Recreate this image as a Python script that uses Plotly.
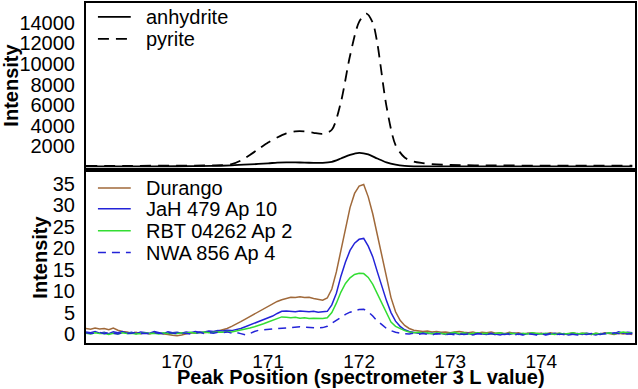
import plotly.graph_objects as go
from plotly.subplots import make_subplots

# ---------------- data ----------------
anh_x = [169.0, 169.5, 170.0, 170.4, 170.6, 170.8, 171.0, 171.1, 171.2, 171.3, 171.4, 171.5, 171.6,
         171.7, 171.8, 171.9, 172.0, 172.1, 172.2, 172.3, 172.4, 172.5, 172.6, 173.0, 174.0, 175.0]
anh_y = [40, 40, 45, 80, 130, 220, 330, 400, 430, 420, 400, 380, 380,
         480, 800, 1150, 1350, 1200, 800, 430, 200, 80, 40, 30, 30, 30]

pyr_x = [169.0, 169.5, 170.0, 170.2, 170.4, 170.5, 170.6, 170.7, 170.8, 170.9, 171.0, 171.1, 171.2,
         171.3, 171.4, 171.5, 171.6, 171.7, 171.8, 171.9, 172.0, 172.08, 172.15, 172.2, 172.3, 172.4,
         172.5, 172.6, 172.7, 172.8, 173.0, 173.5, 174.0, 175.0]
pyr_y = [80, 90, 100, 110, 130, 150, 250, 600, 1150, 1750, 2350, 2850, 3250,
         3450, 3450, 3300, 3200, 3600, 6300, 10800, 14100, 14900, 14000, 12000, 5900, 2100,
         900, 500, 350, 250, 170, 130, 110, 100]

x_start, x_step, n_pts = 169.0, 0.05, 121
peak_x = [round(x_start + x_step * i, 2) for i in range(n_pts)]

durango = [1.3, 1.1, 1.4, 1.2, 1.3, 1.0, 1.4, 0.9, 0.6, 0.5,
           0.2, 0.4, 0.1, 0.3, 0.0, 0.4, 0.2, 0.1, -0.1, -0.3,
           -0.4, -0.2, 0.1, 0.3, 0.2, 0.4, 0.3, 0.5, 0.4, 0.7,
           0.9, 1.3, 1.8, 2.3, 2.9, 3.5, 4.1, 4.6, 5.1, 5.8,
           6.5, 7.0, 7.6, 8.0, 8.3, 8.6, 8.5, 8.7, 8.5, 8.6,
           8.3, 8.1, 7.9, 8.4, 10.5, 14.5, 19.5, 25.0, 29.5, 32.8,
           34.5, 34.9, 32.0, 28.0, 23.0, 18.5, 13.0, 8.5, 5.2, 3.2,
           2.0, 1.3, 0.9, 0.8, 0.6, 0.7, 0.5, 0.6, 0.4, 0.5,
           0.3, 0.5, 0.6, 0.4, 0.3, 0.5, 0.2, 0.4, 0.3, 0.5,
           0.2, 0.3, 0.1, 0.4, 0.2, 0.3, 0.0, 0.2, 0.3, 0.1,
           0.2, 0.0, 0.3, 0.1, 0.2, -0.1, 0.1, 0.3, 0.0, 0.2,
           0.1, -0.1, 0.2, 0.0, 0.3, 0.1, -0.1, 0.2, 0.0, 0.1,
           -0.1]

jah = [0.5, 0.3, 0.6, 0.2, 0.4, 0.1, 0.5, 0.3, 0.6, 0.2,
       0.4, 0.1, 0.5, 0.3, 0.2, 0.6, 0.4, 0.1, 0.5, 0.3,
       0.4, 0.2, 0.5, 0.3, 0.6, 0.4, 0.5, 0.7, 0.6, 0.8,
       0.7, 0.9, 0.8, 1.0, 1.3, 1.7, 2.1, 2.5, 2.9, 3.3,
       3.7, 4.2, 4.8, 5.3, 5.4, 5.3, 5.2, 5.4, 5.3, 5.2,
       5.3, 5.1, 5.2, 5.3, 6.8, 9.5, 13.5, 16.8, 19.5, 21.2,
       22.1, 22.3, 20.5, 18.0, 14.5, 11.0, 7.8, 5.0, 3.0, 1.8,
       1.0, 0.6, 0.4, 0.2, 0.3, 0.1, 0.2, 0.0, 0.2, -0.1,
       0.1, 0.2, -0.1, 0.0, 0.2, -0.2, 0.1, 0.0, -0.1, 0.2,
       0.0, -0.2, 0.1, -0.1, 0.2, 0.0, -0.2, 0.1, 0.0, -0.1,
       0.1, -0.2, 0.0, 0.2, -0.1, 0.1, -0.2, 0.0, 0.1, -0.1,
       0.2, 0.0, -0.2, 0.1, 0.0, 0.3, 0.1, 0.5, 0.2, 0.4,
       0.3]

rbt = [0.2, 0.0, 0.3, 0.1, 0.2, -0.1, 0.2, 0.0, 0.3, 0.1,
       0.2, 0.0, 0.1, 0.3, 0.1, 0.2, 0.0, 0.3, 0.1, 0.2,
       0.1, 0.3, 0.2, 0.4, 0.2, 0.3, 0.5, 0.3, 0.4, 0.5,
       0.4, 0.6, 0.5, 0.7, 1.0, 1.2, 1.4, 1.7, 2.0, 2.4,
       2.8, 3.2, 3.6, 4.0, 3.9, 3.8, 3.9, 3.7, 3.8, 3.6,
       3.7, 3.6, 3.6, 3.8, 5.0, 7.2, 9.8, 11.8, 13.1, 13.9,
       14.2, 14.1, 13.2, 11.6, 9.4, 7.0, 4.7, 2.8, 1.8, 1.2,
       0.8, 0.5, 0.3, 0.4, 0.2, 0.3, 0.1, 0.3, 0.2, 0.0,
       0.2, 0.4, 0.1, 0.3, 0.0, 0.2, 0.3, 0.1, 0.2, 0.0,
       0.1, 0.3, 0.0, 0.2, 0.1, -0.1, 0.2, 0.0, 0.3, 0.1,
       0.0, 0.2, 0.1, -0.1, 0.2, 0.0, 0.1, 0.3, 0.0, 0.2,
       0.1, -0.1, 0.2, 0.0, 0.1, 0.3, 0.0, 0.2, 0.5, 0.3,
       0.2]

nwa = [0.3, 0.1, 0.2, 0.4, 0.1, 0.3, 0.2, 0.0, 0.3, 0.1,
       0.2, 0.4, 0.1, 0.2, 0.0, 0.3, 0.2, 0.1, 0.3, 0.2,
       0.1, 0.3, 0.2, 0.0, 0.2, 0.4, 0.1, 0.3, 0.2, 0.4,
       0.3, 0.5, 0.2, 0.4, 0.1, -0.2, 0.1, 0.6, 0.9, 1.0,
       1.1, 1.2, 1.2, 1.3, 1.4, 1.5, 1.6, 1.7, 1.6, 1.5,
       1.5, 1.4, 1.5, 1.8, 2.5, 3.2, 4.0, 4.6, 5.1, 5.4,
       5.7, 5.8, 5.2, 4.2, 3.0, 2.2, 1.3, 0.8, 0.4, 0.2,
       0.1, 0.0, 0.2, -0.1, 0.1, 0.0, -0.2, 0.1, 0.0, -0.1,
       0.0, -0.2, 0.1, -0.1, 0.0, -0.2, 0.1, 0.0, -0.1, 0.1,
       -0.2, 0.0, -0.1, 0.1, -0.2, 0.0, -0.1, 0.1, 0.0, -0.2,
       0.0, -0.1, 0.1, -0.2, 0.0, -0.1, 0.1, 0.0, -0.2, 0.0,
       -0.1, 0.1, 0.0, -0.1, 0.2, 0.0, 0.3, 0.1, 0.2, 0.0,
       0.1]

top_names = ["anhydrite", "pyrite"]
bot_names = ["Durango", "JaH 479 Ap 10", "RBT 04262 Ap 2", "NWA 856 Ap 4"]
top_ticks = [2000, 4000, 6000, 8000, 10000, 12000, 14000]
top_ticktext = ["2000", "4000", "6000", "8000", "10000", "12000", "14000"]
bot_ticks = [0, 5, 10, 15, 20, 25, 30, 35]
x_ticks = [170, 171, 172, 173, 174]
x_title = "Peak Position (spectrometer 3 L value)"
y_title = "Intensity"

# ---------------- styles ----------------
W, H = 638, 389
ML, MR, MT, MB = 84, 2, 1, 46
FONT = "Liberation Sans, Arial, Helvetica, sans-serif"
C_DUR, C_JAH, C_RBT = "#A0693A", "#2323D8", "#33DD33"

top_style = [dict(color="black", width=1.8), dict(color="black", width=1.8, dash="11px,7px")]
bot_style = [dict(color=C_DUR, width=1.5), dict(color=C_JAH, width=1.5),
             dict(color=C_RBT, width=1.5), dict(color=C_JAH, width=1.5, dash="8px,6px")]

fig = make_subplots(rows=2, cols=1, shared_xaxes=True, vertical_spacing=0.0)

fig.add_trace(go.Scatter(x=anh_x, y=anh_y, mode="lines", name=top_names[0],
                         line=dict(shape="spline", smoothing=0.8, **top_style[0]), showlegend=False), 1, 1)
fig.add_trace(go.Scatter(x=pyr_x, y=pyr_y, mode="lines", name=top_names[1],
                         line=dict(shape="spline", smoothing=0.8, **top_style[1]), showlegend=False), 1, 1)
for name, ys, st in zip(bot_names, [durango, jah, rbt, nwa], bot_style):
    fig.add_trace(go.Scatter(x=peak_x, y=ys, mode="lines", name=name, line=st, showlegend=False), 2, 1)

plot_h = H - MT - MB
plot_w = W - ML - MR


def py2paper(py):
    return (H - MB - py) / plot_h


def px2paper(px):
    return (px - ML) / plot_w


top_dom = [py2paper(167), 1.0]
bot_dom = [0.0, py2paper(171)]

tfont = dict(family=FONT, size=20, color="black")
xfont = dict(family=FONT, size=19, color="black")
axis_common = dict(showline=True, linecolor="black", linewidth=2, mirror=True,
                   showgrid=False, zeroline=False, ticks="", tickfont=tfont)

fig.update_xaxes(range=[169.0, 175.03], tickvals=x_ticks, **axis_common)
fig.update_xaxes(showticklabels=False, row=1, col=1)
fig.update_xaxes(ticklabelstandoff=0, tickfont=xfont, row=2, col=1)
fig.update_yaxes(range=[-126, 15937], tickvals=top_ticks, ticktext=top_ticktext, domain=top_dom,
                 ticklabelstandoff=5,
                 title=dict(text="<b>%s</b>" % y_title, font=tfont, standoff=4),
                 row=1, col=1, **axis_common)
fig.update_yaxes(range=[-2.09, 37.8], tickvals=bot_ticks, domain=bot_dom,
                 ticklabelstandoff=5,
                 title=dict(text="<b>%s</b>" % y_title, font=tfont, standoff=0),
                 row=2, col=1, **axis_common)

# ---------------- hand-drawn legends and x title ----------------
shapes, annots = [], []
legend_sets = [(top_names, top_style, [15, 37]), (bot_names, bot_style, [187, 208, 230, 252])]
for names, styles, rows in legend_sets:
    for name, st, ry in zip(names, styles, rows):
        shapes.append(dict(type="line", xref="paper", yref="paper",
                           x0=px2paper(96), x1=px2paper(129), y0=py2paper(ry), y1=py2paper(ry),
                           line=st))
        annots.append(dict(text=name, xref="paper", yref="paper", x=px2paper(142), y=py2paper(ry),
                           xanchor="left", yanchor="middle", showarrow=False, font=tfont))
annots.append(dict(text="<b>%s</b>" % x_title, xref="paper", yref="paper",
                   x=0.5, y=py2paper(377.5), xanchor="center", yanchor="middle",
                   showarrow=False, font=tfont))

fig.update_layout(width=W, height=H, margin=dict(l=ML, r=MR, t=MT, b=MB),
                  paper_bgcolor="white", plot_bgcolor="white",
                  shapes=shapes, annotations=annots, showlegend=False)

fig.write_html("out.html")
